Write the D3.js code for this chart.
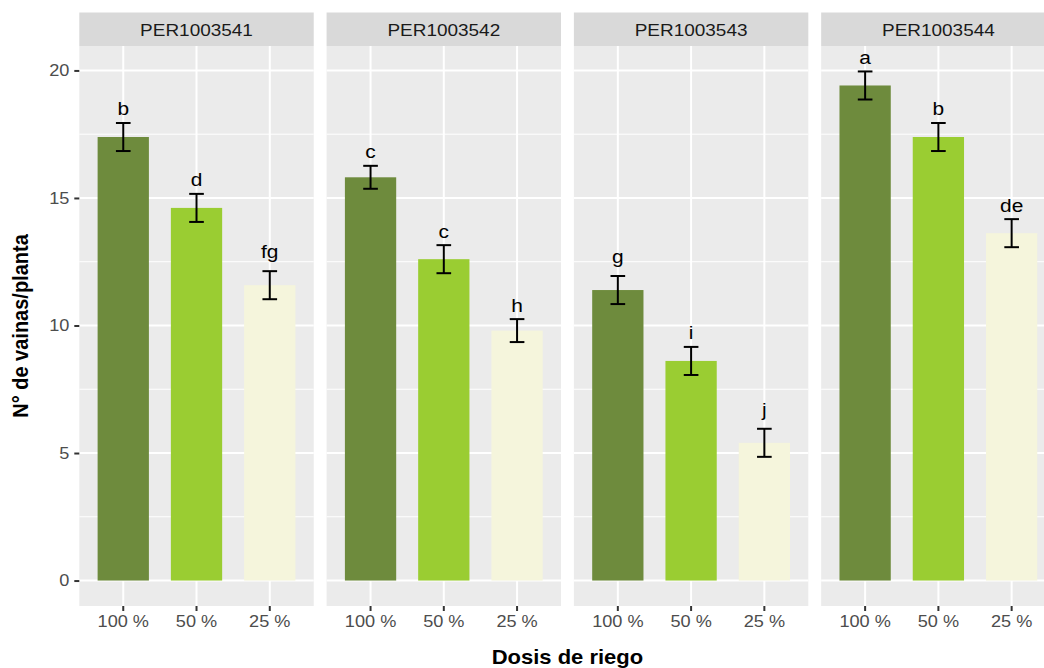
<!DOCTYPE html>
<html>
<head>
<meta charset="utf-8">
<script src="https://cdn.jsdelivr.net/npm/d3@7"></script>
<style>
  html, body { margin: 0; padding: 0; background: #fff; }
  svg { display: block; font-family: "Liberation Sans", Arial, Helvetica, sans-serif; }
</style>
</head>
<body>
<svg id="chart" width="1044" height="668"></svg>
<script>
// ---- data ----
const genotypes = ["PER1003541", "PER1003542", "PER1003543", "PER1003544"];
const doses = ["100 %", "50 %", "25 %"];
const means1 = [17.39, 14.61, 11.58];
const means2 = [15.81, 12.60, 9.80];
const means3 = [11.39, 8.61, 5.40];
const means4 = [19.41, 17.39, 13.62];
const se1 = [0.55, 0.55, 0.55];
const se2 = [0.45, 0.55, 0.45];
const se3 = [0.55, 0.55, 0.55];
const se4 = [0.55, 0.55, 0.55];
const letters1 = ["b", "d", "fg"];
const letters2 = ["c", "c", "h"];
const letters3 = ["g", "i", "j"];
const letters4 = ["a", "b", "de"];
const yTicks = [0, 5, 10, 15, 20];
const doseColors = ["#6E8B3D", "#9ACD32", "#F5F5DC"];

const meansAll = [means1, means2, means3, means4];
const seAll = [se1, se2, se3, se4];
const lettersAll = [letters1, letters2, letters3, letters4];
const rows = [];
genotypes.forEach((g, gi) => {
  doses.forEach((d, di) => {
    rows.push({ g, d, mean: meansAll[gi][di], se: seAll[gi][di], letter: lettersAll[gi][di] });
  });
});

// ---- layout ----
const svg = d3.select("#chart");
const panelTop = 46, panelBottom = 606;
const stripTop = 12.5;
const panelsLeft = 79.3, panelsRight = 1055.6;
const SX = 1.1; // horizontal text stretch

const fx = d3.scaleBand().domain(genotypes).range([panelsLeft, panelsRight]).paddingInner(0.052).paddingOuter(0);
const pw = fx.bandwidth();
const x = d3.scaleBand().domain(doses).range([0, pw]).paddingInner(0.3).paddingOuter(0.25);

const maxY = d3.max(rows, r => r.mean + r.se);
const pad = 0.05 * maxY;
const y = d3.scaleLinear().domain([-pad, maxY + pad]).range([panelBottom, panelTop]);
const minorTicks = [2.5, 7.5, 12.5, 17.5];

genotypes.forEach(g => {
  const p = svg.append("g").attr("transform", `translate(${fx(g)},0)`);
  // strip
  p.append("rect").attr("x", 0).attr("y", stripTop).attr("width", pw).attr("height", panelTop - stripTop).attr("fill", "#d9d9d9");
  p.append("text").attr("transform", `translate(${pw / 2},${36}) scale(1.15,1)`)
    .attr("text-anchor", "middle").attr("font-size", 16.5).attr("fill", "#1a1a1a").text(g);
  // background
  p.append("rect").attr("x", 0).attr("y", panelTop).attr("width", pw).attr("height", panelBottom - panelTop).attr("fill", "#ebebeb");
  // grids
  p.selectAll(".minor").data(minorTicks).enter().append("line")
    .attr("x1", 0).attr("x2", pw).attr("y1", d => y(d)).attr("y2", d => y(d))
    .attr("stroke", "#fff").attr("stroke-width", 1);
  p.selectAll(".major").data(yTicks).enter().append("line")
    .attr("x1", 0).attr("x2", pw).attr("y1", d => y(d)).attr("y2", d => y(d))
    .attr("stroke", "#fff").attr("stroke-width", 2);
  p.selectAll(".vmajor").data(doses).enter().append("line")
    .attr("x1", d => x(d) + x.bandwidth() / 2).attr("x2", d => x(d) + x.bandwidth() / 2)
    .attr("y1", panelTop).attr("y2", panelBottom)
    .attr("stroke", "#fff").attr("stroke-width", 2);

  const data = rows.filter(r => r.g === g);
  // bars
  p.selectAll(".bar").data(data).enter().append("rect")
    .attr("x", d => x(d.d)).attr("width", x.bandwidth())
    .attr("y", d => y(d.mean)).attr("height", d => y(0) - y(d.mean))
    .attr("fill", d => doseColors[doses.indexOf(d.d)]);
  // error bars
  const cap = x.step() * 0.1;
  const cx = d => x(d.d) + x.bandwidth() / 2;
  const eb = p.selectAll(".eb").data(data).enter().append("g")
    .attr("stroke", "#000").attr("stroke-width", 2);
  eb.append("line").attr("x1", cx).attr("x2", cx)
    .attr("y1", d => y(d.mean - d.se)).attr("y2", d => y(d.mean + d.se));
  eb.append("line").attr("x1", d => cx(d) - cap).attr("x2", d => cx(d) + cap)
    .attr("y1", d => y(d.mean + d.se)).attr("y2", d => y(d.mean + d.se));
  eb.append("line").attr("x1", d => cx(d) - cap).attr("x2", d => cx(d) + cap)
    .attr("y1", d => y(d.mean - d.se)).attr("y2", d => y(d.mean - d.se));
  // letters (raised a bit more when the label has a descender)
  const lift = d => 7.5 + (/[gjpqy]/.test(d.letter) ? 5.5 : 0);
  p.selectAll(".lab").data(data).enter().append("text")
    .attr("transform", d => `translate(${cx(d)},${y(d.mean + d.se) - lift(d)}) scale(${SX},1)`)
    .attr("text-anchor", "middle").attr("font-size", 19).attr("fill", "#000").text(d => d.letter);

  // x axis
  const xa = p.append("g").attr("transform", `translate(0,${panelBottom})`)
    .call(d3.axisBottom(x).tickSize(5).tickPadding(4));
  xa.select(".domain").remove();
  xa.selectAll(".tick line").attr("stroke", "#333").attr("stroke-width", 2);
  xa.selectAll(".tick text").attr("font-size", 16.5).attr("fill", "#4d4d4d")
    .attr("font-family", null).attr("transform", `scale(${SX},1)`);
});

// y axis
const ya = svg.append("g").attr("transform", `translate(${panelsLeft},0)`)
  .call(d3.axisLeft(y).tickValues(yTicks).tickSize(5).tickPadding(4));
ya.select(".domain").remove();
ya.selectAll(".tick line").attr("stroke", "#333").attr("stroke-width", 2);
ya.selectAll(".tick text").attr("font-size", 16.5).attr("fill", "#4d4d4d").attr("font-family", null)
  .attr("transform", `scale(${SX},1)`);

// axis titles
svg.append("text")
  .attr("transform", `translate(${(panelsLeft + panelsRight) / 2},664) scale(${SX},1)`)
  .attr("text-anchor", "middle").attr("font-size", 20).attr("font-weight", "bold").attr("fill", "#000")
  .text("Dosis de riego");
svg.append("text")
  .attr("transform", `translate(28,${(panelTop + panelBottom) / 2}) rotate(-90) scale(1,${SX})`)
  .attr("text-anchor", "middle").attr("font-size", 20).attr("font-weight", "bold").attr("fill", "#000")
  .text("N° de vainas/planta");
</script>
</body>
</html>
